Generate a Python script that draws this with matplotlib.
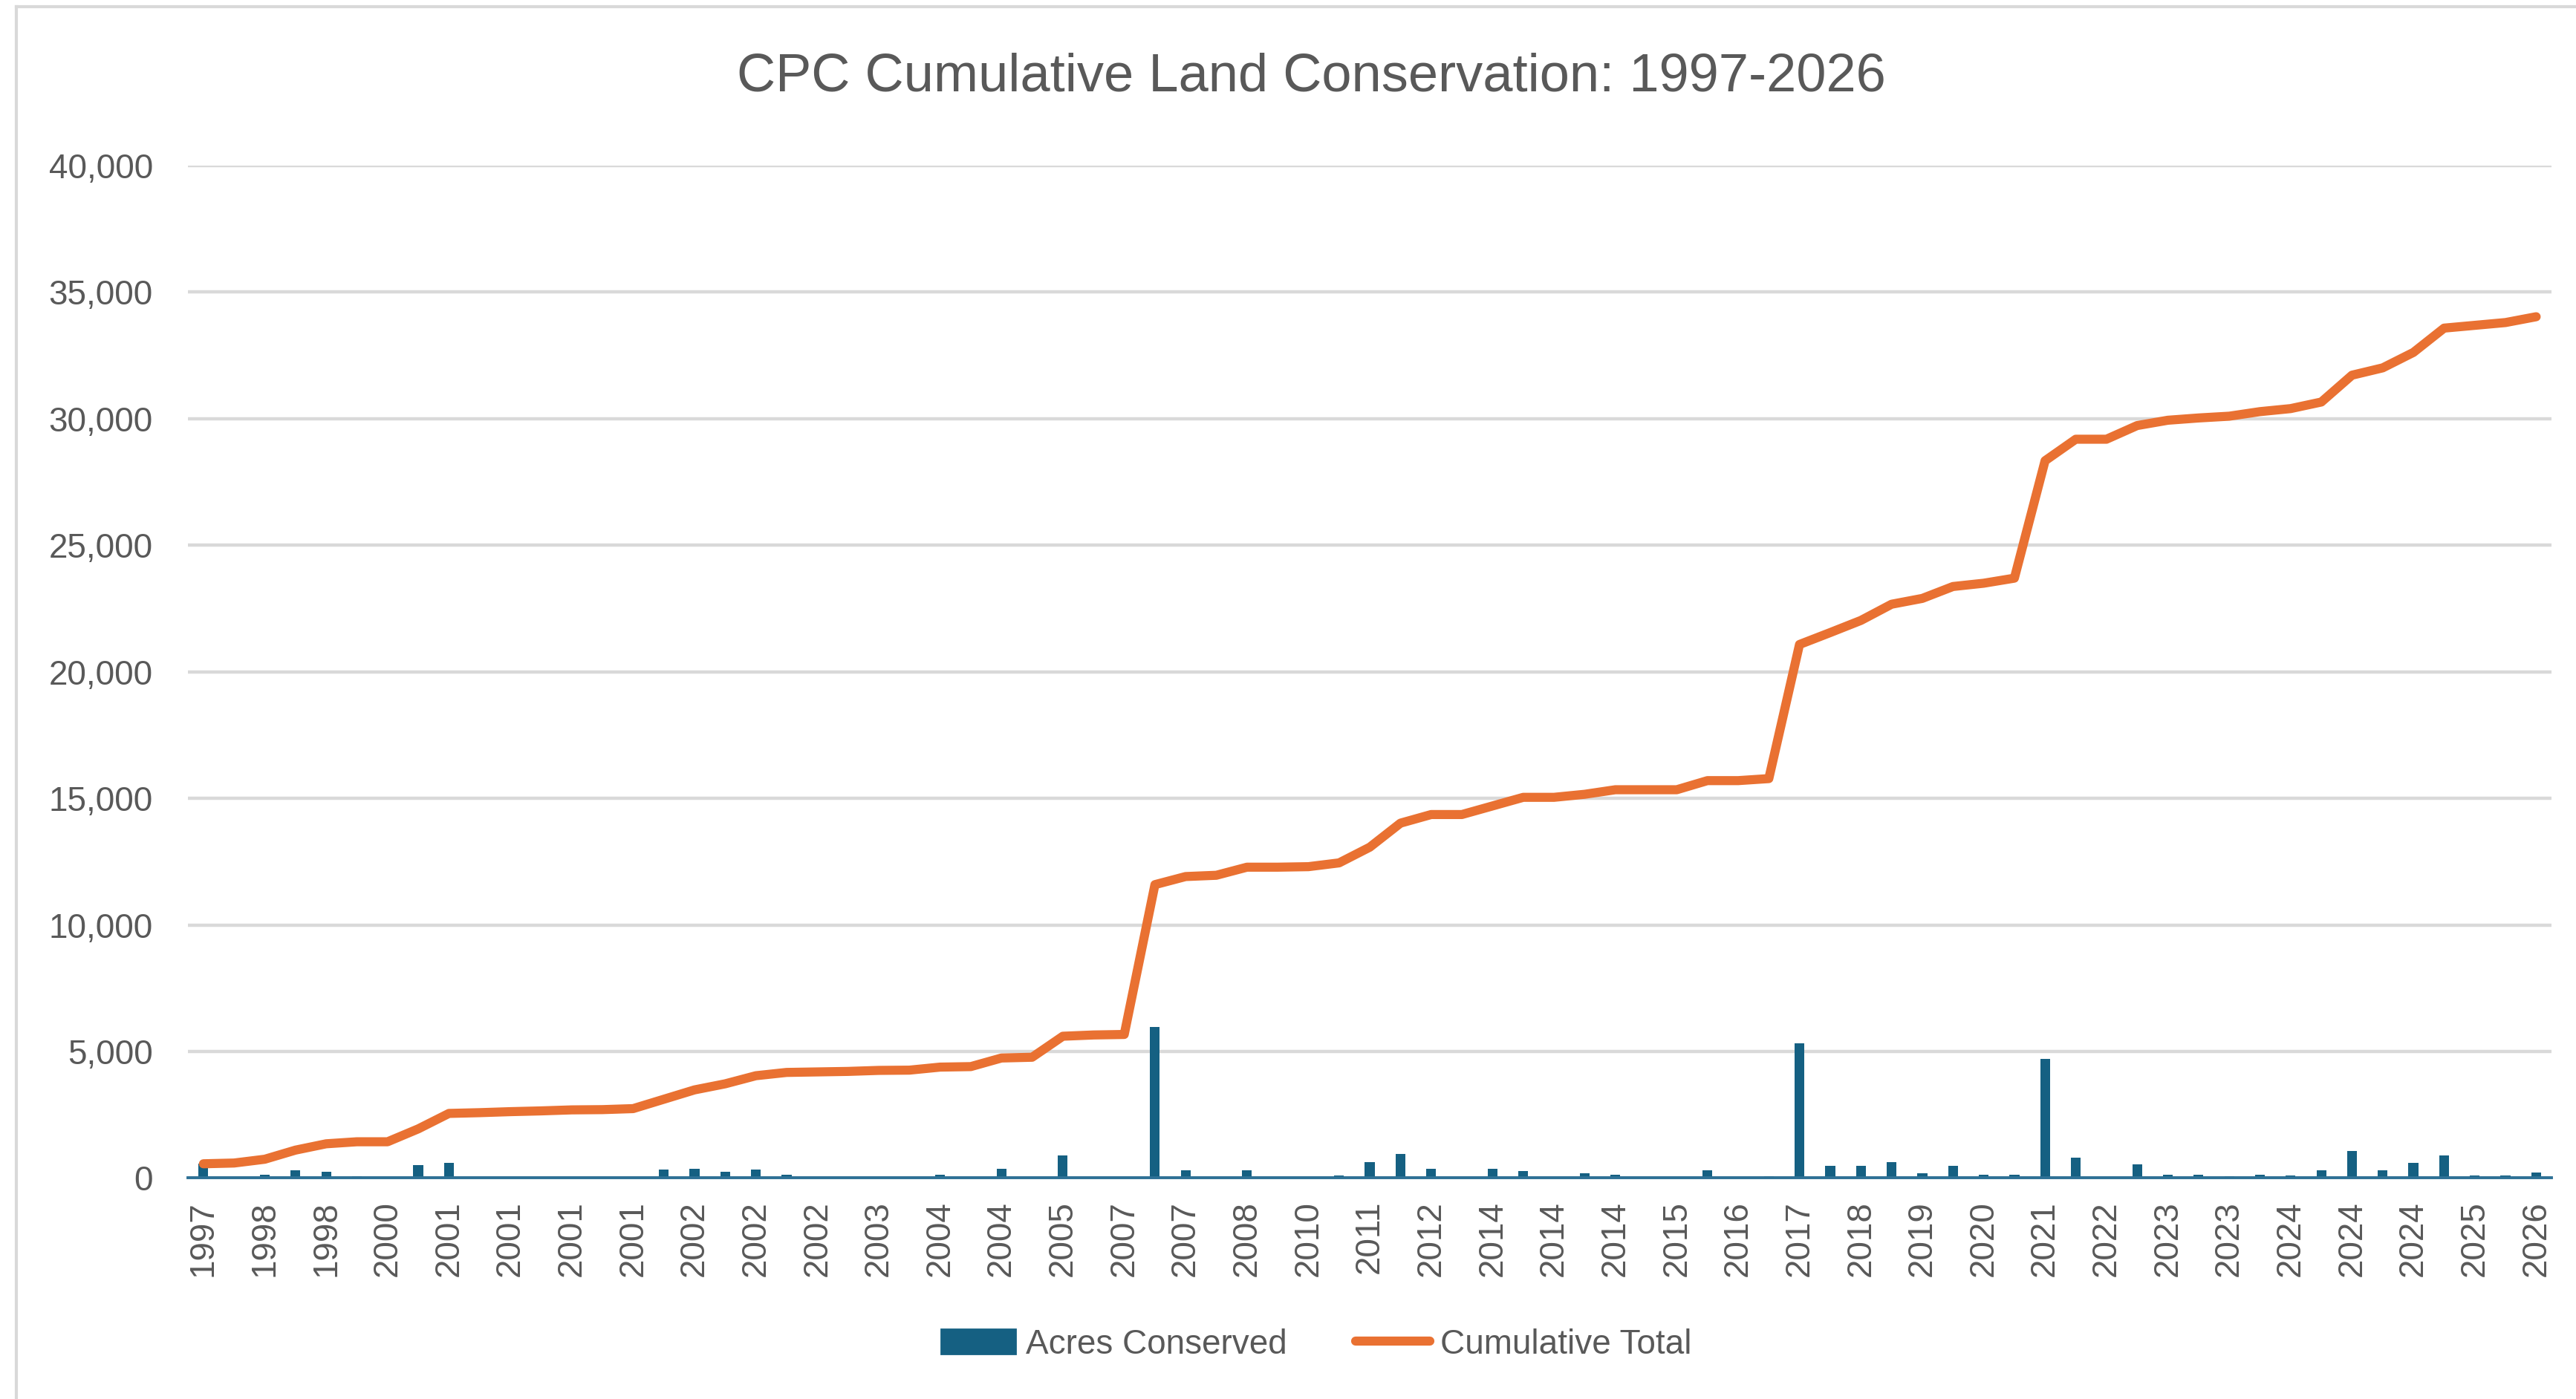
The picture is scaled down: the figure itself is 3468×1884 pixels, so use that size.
import matplotlib
matplotlib.use("Agg")
import matplotlib.pyplot as plt
from matplotlib.lines import Line2D
from matplotlib.ticker import FuncFormatter

plt.rcParams["font.family"] = ["Liberation Sans", "DejaVu Sans"]

# every other category carries a label (Excel skips alternate labels)
tick_labels = ["1997", "1998", "1998", "2000", "2001", "2001", "2001", "2001",
               "2002", "2002", "2002", "2003", "2004", "2004", "2005", "2007",
               "2007", "2008", "2010", "2011", "2012", "2014", "2014", "2014",
               "2015", "2016", "2017", "2018", "2019", "2020", "2021", "2022",
               "2023", "2023", "2024", "2024", "2024", "2025", "2026"]

acres = [560, 30, 130, 300, 250, 70, 10, 510, 610, 30,
         40, 30, 40, 10, 40, 340, 370, 250, 330, 140,
         20, 20, 40, 10, 120, 20, 360, 30, 880, 40,
         20, 5980, 300, 30, 300, 10, 20, 100, 620, 950,
         360, 10, 360, 260, 10, 180, 130, 10, 10, 300,
         10, 80, 5310, 480, 480, 630, 190, 480, 130, 130,
         4690, 810, 10, 550, 130, 130, 70, 130, 100, 290,
         1080, 290, 590, 880, 100, 100, 220]

cumulative = [560, 590, 740, 1100, 1350, 1430, 1430, 1940, 2550, 2580,
              2620, 2650, 2690, 2700, 2740, 3110, 3480, 3720, 4040, 4170,
              4190, 4210, 4250, 4260, 4380, 4400, 4740, 4770, 5600, 5650,
              5670, 11590, 11910, 11960, 12280, 12280, 12300, 12450, 13070, 14020,
              14360, 14360, 14700, 15040, 15040, 15160, 15340, 15340, 15340, 15700,
              15700, 15780, 21080, 21550, 22030, 22670, 22900, 23370, 23500, 23700,
              28340, 29190, 29190, 29730, 29940, 30030, 30100, 30280, 30400, 30660,
              31720, 32010, 32620, 33580, 33690, 33800, 34030]

bar_color = "#156082"
line_color = "#E97132"
text_color = "#595959"
grid_color = "#D9D9D9"

fig = plt.figure(figsize=(17.34, 9.42), dpi=200)
ax = fig.add_axes([0.073, 0.158, 0.9175, 0.7236])

x = list(range(len(acres)))
ax.bar(x, acres, width=0.32, color=bar_color, zorder=2, label="Acres Conserved")
ax.plot(x, cumulative, color=line_color, lw=4.4, solid_capstyle="round",
        solid_joinstyle="round", zorder=3, label="Cumulative Total")

ax.set_xlim(-0.5, len(acres) - 0.5)
ax.set_ylim(0, 40000)
ax.set_yticks(range(0, 40001, 5000))
ax.yaxis.set_major_formatter(FuncFormatter(lambda v, p: f"{int(v):,}"))
ax.set_xticks(x[::2])
ax.set_xticklabels(tick_labels, rotation=90)

ax.grid(axis="y", color=grid_color, lw=1.6, zorder=0)
ax.set_axisbelow(True)
for s in ["top", "right", "left"]:
    ax.spines[s].set_visible(False)
ax.spines["bottom"].set_color("#2E7196")
ax.spines["bottom"].set_linewidth(1.4)
ax.spines["bottom"].set_zorder(4)
ax.tick_params(axis="both", length=0, labelsize=16.5, colors=text_color)
ax.tick_params(axis="y", pad=17)
ax.tick_params(axis="x", pad=11)

fig.text(0.509, 0.945, "CPC Cumulative Land Conservation: 1997-2026",
         ha="center", va="center", fontsize=26, color=text_color)

handles = [plt.Rectangle((0, 0), 1, 1, color=bar_color),
           Line2D([0], [0], color=line_color, lw=4.4, solid_capstyle="round")]
fig.legend(handles, ["Acres Conserved", "Cumulative Total"], loc="center",
           bbox_to_anchor=(0.511, 0.039), ncol=2, frameon=False,
           fontsize=16.5, labelcolor=text_color, handlelength=2.2,
           handletextpad=0.3, columnspacing=2.0)

# chart border (only top and left visible in the screenshot)
fig.add_artist(Line2D([0.0063, 1.0], [0.9952, 0.9952], color=grid_color, lw=1.5))
fig.add_artist(Line2D([0.0063, 0.0063], [0.0, 0.9952], color=grid_color, lw=1.5))

fig.savefig("out.png", dpi=200, facecolor="white")
